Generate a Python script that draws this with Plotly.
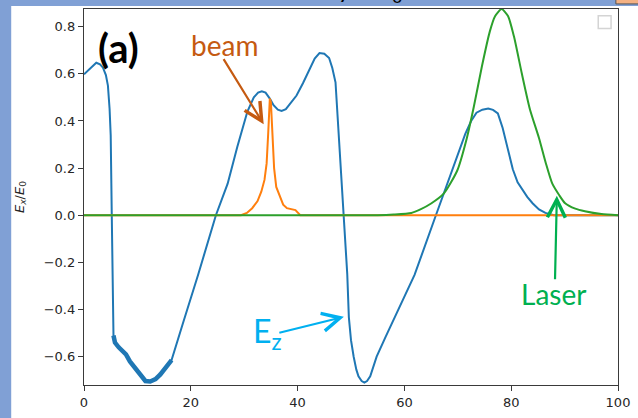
import plotly.graph_objects as go

# ---- data ----
ez_x = [0, 1.0, 2.3, 3.0, 3.55, 4.1, 4.48, 4.79, 5.0, 5.2, 5.4, 5.52, 5.8, 6.5, 7.2, 7.86, 8.6, 9.4,
        10.3, 10.9, 11.5, 12.4, 13.4, 14.3, 15.2, 16.4, 18.5, 21.4, 24.7, 26.9, 28.7, 30.6, 31.8,
        32.6, 33.3, 34.0, 34.8, 35.5, 36.3, 37.0, 37.8, 38.7, 39.8, 41.0, 42.2, 43.2, 44.1, 45.0,
        45.9, 46.5, 47.1, 47.75, 48.7, 49.3, 49.6, 50.0, 50.5, 51.0, 51.4, 52.0, 52.5, 53.0, 53.6,
        54.2, 54.8, 56.5, 58.2, 61.9, 65.9, 70.5, 71.4, 72.5, 73.5, 74.6, 75.7, 76.6, 77.5, 78.4,
        79.1, 79.7, 80.3, 81.2, 82.1, 83.0, 84.0, 85.2, 86.4, 88.0, 100]
ez_y = [0.598, 0.62, 0.647, 0.64, 0.626, 0.595, 0.55, 0.452, 0.34, 0.0, -0.3, -0.51, -0.54, -0.56,
        -0.575, -0.59, -0.62, -0.645, -0.67, -0.69, -0.703, -0.705, -0.695, -0.675, -0.648, -0.614,
        -0.46, -0.25, 0.0, 0.134, 0.29, 0.44, 0.5, 0.52, 0.526, 0.52, 0.495, 0.467, 0.448, 0.443,
        0.45, 0.475, 0.508, 0.56, 0.62, 0.665, 0.688, 0.685, 0.667, 0.625, 0.564, 0.335, 0.0,
        -0.25, -0.433, -0.53, -0.6, -0.655, -0.683, -0.703, -0.71, -0.703, -0.683, -0.645, -0.6,
        -0.515, -0.433, -0.253, 0.0, 0.295, 0.345, 0.4, 0.435, 0.448, 0.453, 0.447, 0.432, 0.37,
        0.31, 0.25, 0.195, 0.14, 0.107, 0.078, 0.051, 0.025, 0.01, 0.0, 0.0]

beam_x = [0, 29.4, 30.5, 31.5, 32.5, 33.2, 33.8, 34.2, 34.5, 34.8, 35.0, 35.3, 35.6, 36.0, 36.7,
          37.3, 38.0, 39.0, 39.6, 40.0, 40.5, 100]
beam_y = [0, 0, 0.01, 0.03, 0.06, 0.1, 0.15, 0.22, 0.35, 0.495, 0.48, 0.33, 0.2, 0.12, 0.075,
          0.045, 0.03, 0.025, 0.022, 0.012, 0, 0]

laser_x = [0, 55, 58, 61.3, 63, 65, 67.4, 69.9, 71.7, 73, 74.5, 76, 77, 78.2, 79.4, 80.5, 82,
           83.5, 85.2, 86.5, 87.7, 89, 90.1, 92, 93.8, 96.9, 100]
laser_y = [0, 0, 0.003, 0.01, 0.025, 0.05, 0.093, 0.19, 0.328, 0.46, 0.63, 0.78, 0.845, 0.875,
           0.845, 0.76, 0.6, 0.45, 0.328, 0.22, 0.134, 0.085, 0.051, 0.028, 0.017, 0.005, 0]

x_ticks = [0, 20, 40, 60, 80, 100]
y_ticks = [-0.6, -0.4, -0.2, 0.0, 0.2, 0.4, 0.6, 0.8]
y_ticktext = ["\u22120.6", "\u22120.4", "\u22120.2", "0.0", "0.2", "0.4", "0.6", "0.8"]

BLUE, ORANGE, GREEN = "#1f77b4", "#ff7f0e", "#2ca02c"

# noisy (thick) segment of the Ez curve
i0 = ez_x.index(5.52)
i1 = ez_x.index(16.4) + 1

fig = go.Figure()
fig.add_trace(go.Scatter(x=ez_x, y=ez_y, mode="lines", line=dict(color=BLUE, width=2),
                         showlegend=False, hoverinfo="skip"))
fig.add_trace(go.Scatter(x=ez_x[i0:i1], y=ez_y[i0:i1], mode="lines",
                         line=dict(color=BLUE, width=4.5), showlegend=False, hoverinfo="skip"))
fig.add_trace(go.Scatter(x=beam_x, y=beam_y, mode="lines", line=dict(color=ORANGE, width=2),
                         showlegend=False, hoverinfo="skip"))
fig.add_trace(go.Scatter(x=laser_x, y=laser_y, mode="lines",
                         line=dict(color=GREEN, width=2, shape="spline", smoothing=0.6),
                         showlegend=False, hoverinfo="skip"))

axis_col = "#3a3a3a"
tick_font = dict(family="DejaVu Sans", size=13, color="#262626")

fig.update_xaxes(range=[0, 100], tickvals=x_ticks, ticks="outside", ticklen=5, tickcolor=axis_col,
                 showline=True, linecolor=axis_col, linewidth=1.3, mirror=True, showgrid=False,
                 zeroline=False, tickfont=tick_font, ticklabeloverflow="allow")
fig.update_yaxes(range=[-0.72, 0.875], tickvals=y_ticks, ticktext=y_ticktext, ticks="outside",
                 ticklen=5, tickcolor=axis_col, showline=True, linecolor=axis_col, linewidth=1.3,
                 mirror=True, showgrid=False, zeroline=False, tickfont=tick_font,
                 title=dict(text="<i>E</i><sub><i>x</i></sub>/<i>E</i><sub>0</sub>",
                            font=dict(family="DejaVu Sans", size=13, color="#262626"), standoff=16))

ann = []
# texts
ann.append(dict(x=6.45, y=0.71, xref="x", yref="y", text="<b>(a)</b>", showarrow=False,
                font=dict(family="Lato", size=40, color="black")))
ann.append(dict(x=26.4, y=0.723, xref="x", yref="y", text="beam", showarrow=False,
                font=dict(family="Lato", size=28, color="#c55a11")))
ann.append(dict(x=34.3, y=-0.5, xref="x", yref="y", text="E<sub>z</sub>", showarrow=False,
                font=dict(family="Lato", size=32, color="#00b0f0")))
ann.append(dict(x=88.0, y=-0.336, xref="x", yref="y", text="Laser", showarrow=False,
                font=dict(family="Lato", size=28, color="#00b050")))
# arrows
for (tx, ty, hx, hy, col) in [(25.97, 0.669, 33.65, 0.386, "#c55a11"),
                              (36.3, -0.50, 48.67, -0.431, "#00b0f0"),
                              (88.2, -0.278, 88.55, 0.083, "#00b050")]:
    ann.append(dict(x=hx, y=hy, ax=tx, ay=ty, xref="x", yref="y", axref="x", ayref="y", text="",
                    showarrow=True, arrowhead=5, arrowsize=1.6, arrowwidth=2.2, arrowcolor=col,
                    standoff=0))
# cut-off text at the very top of the picture
ann.append(dict(x=0.488, y=1.0104, xref="paper", yref="paper", text="y", showarrow=False,
                yanchor="bottom", font=dict(family="Lato", size=24, color="black")))
ann.append(dict(x=0.586, y=0.999, xref="paper", yref="paper", text="0", showarrow=False,
                yanchor="bottom", font=dict(family="Lato", size=18, color="black")))

shapes = [
    dict(type="rect", xref="paper", yref="paper", x0=-0.1363, x1=1.06, y0=-0.12, y1=1.0078,
         fillcolor="white", line=dict(width=0), layer="below"),
    dict(type="rect", xref="paper", yref="paper", x0=0.963, x1=0.987, y0=0.948, y1=0.982,
         fillcolor="white", line=dict(color="#d4d4d4", width=1.5)),
    dict(type="rect", xref="paper", yref="paper", x0=0.996, x1=1.04, y0=1.0135, y1=1.06,
         fillcolor="#f4b183", line=dict(color="#555555", width=1)),
]

fig.update_layout(width=638, height=418, margin=dict(l=84, r=11, t=8, b=26),
                  paper_bgcolor="#80a0d5", plot_bgcolor="white",
                  annotations=ann, shapes=shapes, showlegend=False)

post = ("document.documentElement.style.margin='0';document.body.style.margin='0';"
        "document.body.style.padding='0';document.body.style.overflow='hidden';")

fig.write_html("out.html", post_script=post, config={"displayModeBar": False})
